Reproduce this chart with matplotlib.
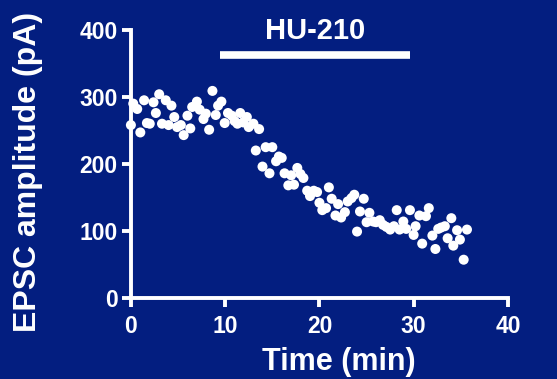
import matplotlib.pyplot as plt

plt.rcParams['font.family'] = ['Liberation Sans', 'DejaVu Sans']
plt.rcParams['font.weight'] = 'bold'

bg = '#031e80'

# Daten
zeit = [0.0, 0.25, 0.67, 1.0, 1.4, 1.7, 2.0, 2.4, 2.65, 3.0, 3.3, 3.7, 4.0, 4.3,
        4.6, 4.9, 5.3, 5.6, 6.0, 6.3, 6.5, 7.0, 7.3, 7.7, 7.95, 8.3, 8.65, 9.0,
        9.25, 9.6, 9.95, 10.3, 10.7, 11.0, 11.3, 11.6, 11.9, 12.3, 12.5, 13.0,
        13.25, 13.6, 13.96, 14.3, 14.7, 15.0, 15.4, 15.7, 16.0, 16.3, 16.7, 17.0,
        17.3, 17.65, 17.98, 18.3, 18.7, 19.0, 19.4, 19.75, 20.0, 20.3, 20.7, 21.0,
        21.3, 21.7, 21.98, 22.3, 22.7, 23.0, 23.4, 23.7, 23.99, 24.3, 24.7, 25.0,
        25.3, 25.7, 26.0, 26.4, 26.75, 27.1, 27.5, 27.9, 28.2, 28.5, 28.9, 29.2,
        29.6, 29.99, 30.2, 30.6, 30.9, 31.3, 31.6, 31.98, 32.3, 32.6, 32.9, 33.3,
        33.6, 33.99, 34.2, 34.6, 34.9, 35.3, 35.65]
amplitude = [258, 290, 282, 247, 295, 261, 260, 292, 276, 304, 260, 295, 258, 287,
             270, 255, 258, 243, 272, 253, 285, 293, 281, 267, 275, 251, 309, 273,
             287, 293, 261, 276, 272, 264, 260, 276, 262, 270, 255, 260,
             220, 252, 196, 225, 186, 225, 204, 211, 209, 186, 168, 183,
             169, 194, 185, 179, 160, 152, 160, 158, 142, 131, 134, 165,
             148, 123, 140, 120, 128, 144, 149, 154, 99, 129, 148, 113,
             127, 114, 113, 116, 109, 106, 102, 107, 131, 102, 114, 103,
             131, 94, 107, 123, 81, 122, 134, 93, 73, 103, 105, 107,
             89, 119, 78, 101, 87, 57, 102]

balken_start, balken_ende, balken_y = 9.5, 29.6, 363
balken_text = 'HU-210'

fig = plt.figure(figsize=(5.57, 3.79), dpi=100, facecolor=bg)
ax = fig.add_axes([0.235, 0.214, 0.677, 0.707], facecolor=bg)

ax.scatter(zeit, amplitude, s=52, color='white', edgecolors='none', zorder=3, clip_on=False)

ax.plot([balken_start, balken_ende], [balken_y, balken_y], color='white', lw=5.5,
        solid_capstyle='butt', clip_on=False)
ax.text((balken_start + balken_ende) / 2, 399, balken_text, color='white', fontsize=21,
        fontweight='bold', ha='center', va='center', clip_on=False)

ax.set_xlim(0, 40)
ax.set_ylim(0, 400)
ax.set_xticks([0, 10, 20, 30, 40])
ax.set_yticks([0, 100, 200, 300, 400])

for s in ['top', 'right']:
    ax.spines[s].set_visible(False)
for s in ['left', 'bottom']:
    ax.spines[s].set_color('white')
    ax.spines[s].set_linewidth(2.8)

ax.tick_params(colors='white', width=2.8, length=6.5, labelsize=16.5)
ax.tick_params(axis='x', pad=6)
ax.tick_params(axis='y', pad=3)
for lab in ax.get_xticklabels() + ax.get_yticklabels():
    lab.set_fontweight('bold')

ax.set_xlabel('Time (min)', color='white', fontsize=22, fontweight='bold', va='center')
ax.xaxis.set_label_coords(0.552, -0.239)
ax.set_ylabel('EPSC amplitude (pA)', color='white', fontsize=23, fontweight='bold', va='center')
ax.yaxis.set_label_coords(-0.272, 0.47)

fig.savefig('out.png', dpi=100, facecolor=bg)
